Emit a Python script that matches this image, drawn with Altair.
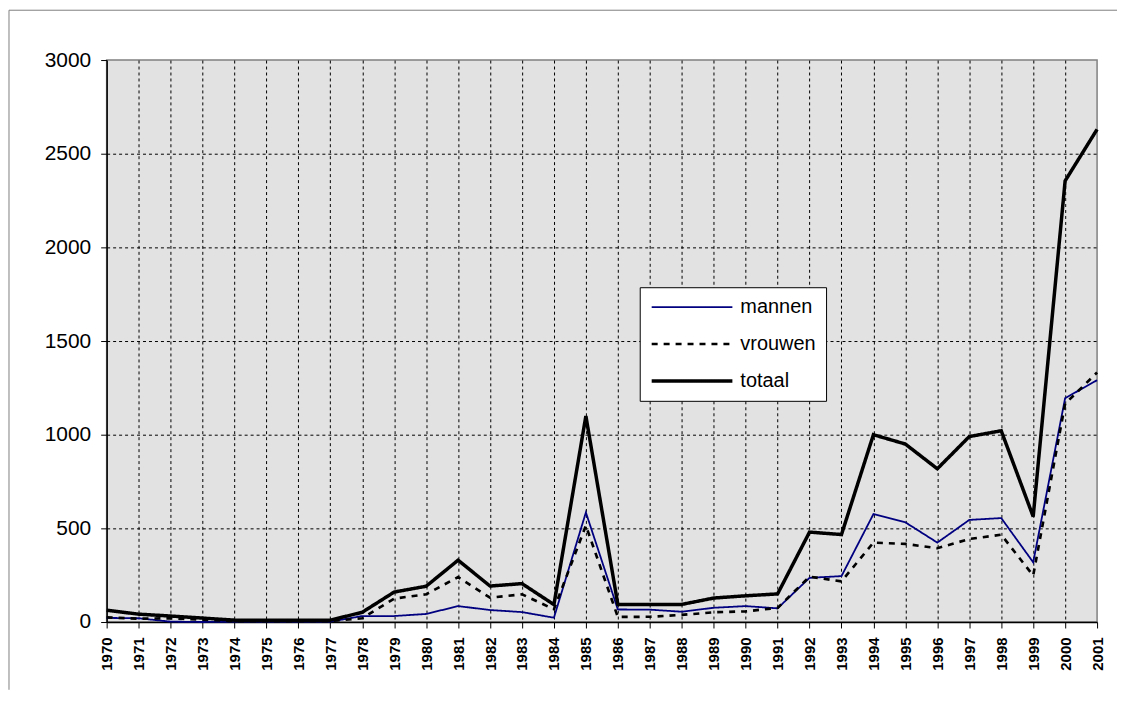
import altair as alt
import pandas as pd

years = list(range(1970, 2002))
mannen = [22, 20, 2, 0, 2, 2, 2, 2, 32, 32, 43, 85, 64, 53, 23, 585, 67, 66, 55, 76, 85, 73,
          236, 245, 576, 532, 424, 545, 555, 319, 1195, 1291]
vrouwen = [25, 18, 20, 12, 5, 5, 5, 5, 20, 125, 148, 240, 130, 148, 68, 515, 27, 28, 38, 52, 57, 75,
           242, 217, 424, 417, 394, 443, 466, 248, 1165, 1332]
totaal = [63, 42, 32, 21, 10, 10, 10, 10, 52, 160, 191, 330, 192, 205, 93, 1100, 94, 94, 94, 128, 140, 150,
          480, 467, 1000, 950, 818, 990, 1021, 563, 2355, 2630]

series_names = ["mannen", "vrouwen", "totaal"]
series_colors = ["#000080", "#000000", "#000000"]
series_dashes = [[1, 0], [6, 6], [1, 0]]
series_widths = [1.8, 3.5, 4.5]
y_ticks = [0, 500, 1000, 1500, 2000, 2500, 3000]

rows = []
for name, vals in zip(series_names, [mannen, vrouwen, totaal]):
    for yr, v in zip(years, vals):
        rows.append({"jaar": yr, "serie": name, "aantal": v})
df = pd.DataFrame(rows)

legend = alt.Legend(
    title=None, orient="none", legendX=535, legendY=228,
    symbolType="stroke", symbolSize=6561, clipHeight=20, rowPadding=17,
    padding=10, fillColor="white", strokeColor="black",
    labelFont="Liberation Sans", labelFontSize=20, labelColor="black",
    labelOffset=6, symbolOpacity=1, cornerRadius=0,
)

x_axis = alt.Axis(
    title=None, labelAngle=270, labelFont="Liberation Sans", labelFontWeight="bold",
    labelFontSize=15, labelColor="black", tickColor="black", tickSize=6, tickWidth=1,
    domainColor="black", domainWidth=1.5, labelPadding=9,
    grid=True, gridColor="black", gridDash=[3, 3], gridWidth=1,
    gridOpacity=alt.condition("datum.value == 2001 || datum.value == 1970", alt.value(0), alt.value(1)),
)
y_axis = alt.Axis(
    title=None, values=y_ticks, format="d", labelFont="Liberation Sans", labelFontSize=21,
    labelColor="black",
    tickColor="black", tickSize=6, tickWidth=1, domainColor="black", domainWidth=1.5, labelPadding=10,
    grid=True, gridColor="black", gridDash=[3, 3], gridWidth=1,
    gridOpacity=alt.condition("datum.value == 3000 || datum.value == 0", alt.value(0), alt.value(1)),
)

lines = alt.Chart(df).mark_line(strokeCap="butt", strokeJoin="miter").encode(
    x=alt.X("jaar:O", scale=alt.Scale(type="point", padding=0), axis=x_axis),
    y=alt.Y("aantal:Q", scale=alt.Scale(domain=[0, 3000], nice=False), axis=y_axis),
    color=alt.Color("serie:N", scale=alt.Scale(domain=series_names, range=series_colors), legend=legend),
    strokeDash=alt.StrokeDash("serie:N", scale=alt.Scale(domain=series_names, range=series_dashes), legend=legend),
    strokeWidth=alt.StrokeWidth("serie:N", scale=alt.Scale(domain=series_names, range=series_widths), legend=legend),
)

frame_df = pd.DataFrame({"k": [0]})
frame_top = alt.Chart(frame_df).mark_rule(color="#808080", strokeWidth=1).encode(
    x=alt.value(-98), x2=alt.value(1014), y=alt.value(-50)
)
frame_left = alt.Chart(frame_df).mark_rule(color="#808080", strokeWidth=1).encode(
    x=alt.value(-98), y=alt.value(-50), y2=alt.value(632)
)

chart = alt.layer(frame_top, frame_left, lines).properties(
    width=994, height=564, padding=0, background="white"
).configure_view(
    stroke="#808080", strokeWidth=1.5, fill="#e2e2e2"
)

chart.save("out.html", embed_options={"renderer": "svg", "actions": False})
